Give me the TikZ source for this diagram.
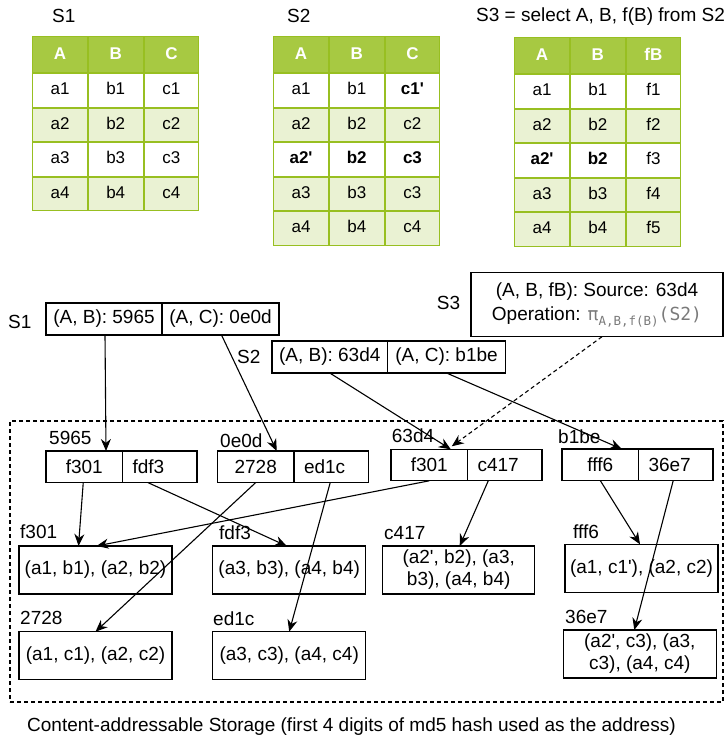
\documentclass[tikz,border=0pt]{standalone}
\usepackage{fontspec}
\setmainfont{Liberation Sans}
\newfontfamily\opfont{DejaVu Sans Mono}
\usepackage{xcolor}
\usepackage{tikz}
\usetikzlibrary{arrows.meta, positioning, matrix}

\definecolor{tblhead}{HTML}{A7C942}
\definecolor{tblline}{HTML}{98BF21}
\definecolor{tblalt}{HTML}{EAF2D3}
\definecolor{opgray}{HTML}{7A7A7A}
\newcommand{\bigtxt}{\fontsize{19}{22}\selectfont}
\newcommand{\tbltxt}{\fontsize{17}{20}\selectfont}
\newcommand{\apos}{\textquotesingle}

\tikzset{
  cell/.style={draw=tblline, line width=1pt, minimum width=54.7pt, minimum height=33.5pt, inner sep=0pt,
    text height=12.5pt, text depth=3.5pt, anchor=center, font=\tbltxt},
  headcell/.style={fill=tblhead, text=white, font=\tbltxt\bfseries, minimum height=36pt},
  altcell/.style={fill=tblalt},
  tbl/.style={matrix of nodes, inner sep=0pt, column sep=0pt, row sep=0pt, anchor=north west, nodes={cell},
    row 1/.style={nodes={headcell}}, row 3/.style={nodes={altcell}}, row 5/.style={nodes={altcell}}},
  pairbox/.style={draw, line width=1.1pt, minimum height=32pt, inner sep=0pt, outer sep=0pt, font=\bigtxt},
  halfL/.style={draw, line width=1.1pt, minimum width=76.5pt, minimum height=31.5pt, inner sep=0pt, outer sep=0pt, font=\bigtxt, anchor=north west},
  halfR/.style={draw, line width=1.1pt, text width=54.5pt, align=left, minimum height=31.5pt, inner xsep=10pt, inner ysep=0pt, outer sep=0pt, font=\bigtxt},
  store/.style={draw, line width=1.1pt, minimum width=153pt, minimum height=48pt, inner sep=2pt, outer sep=0pt, align=center, font=\bigtxt, anchor=north west},
  addr/.style={anchor=west, inner sep=0pt, font=\bigtxt},
  link/.style={-{Stealth[length=12pt, width=10pt]}, line width=1.1pt},
}

\begin{document}
\begin{tikzpicture}[x=1pt, y=-1pt]
  \useasboundingbox (0,0) rectangle (725,738);

  % tables
  \node (ttlS1) [addr] at (52,16) {S1};
  \node (ttlS2) [addr] at (287,16) {S2};
  \node (ttlS3) [addr] at (476,17) {S3 = select A, B, f(B) from S2};
  \matrix (tabS1) [tbl] at (32,36) {
    A & B & C \\
    a1 & b1 & c1 \\
    a2 & b2 & c2 \\
    a3 & b3 & c3 \\
    a4 & b4 & c4 \\
  };
  \matrix (tabS2) [tbl, row 6/.style={nodes={altcell}}] at (273,36) {
    A & B & C \\
    a1 & b1 & \textbf{c1\apos} \\
    a2 & b2 & c2 \\
    \textbf{a2\apos} & \textbf{b2} & \textbf{c3} \\
    a3 & b3 & c3 \\
    a4 & b4 & c4 \\
  };
  \matrix (tabS3) [tbl, row 6/.style={nodes={altcell}}] at (514,37) {
    A & B & fB \\
    a1 & b1 & f1 \\
    a2 & b2 & f2 \\
    \textbf{a2\apos} & \textbf{b2} & f3 \\
    a3 & b3 & f4 \\
    a4 & b4 & f5 \\
  };

  % root entries
  \node (lblS1) [addr] at (8,322) {S1};
  \node (s1ab) [pairbox, minimum width=116pt, anchor=north west] at (46,303) {(A, B): 5965};
  \node (s1ac) [pairbox, minimum width=117pt, right=0pt of s1ab] {(A, C): 0e0d};
  \node (lblS2) [addr] at (237,356.7) {S2};
  \node (s2ab) [pairbox, minimum width=115.5pt, anchor=north west] at (272,341) {(A, B): 63d4};
  \node (s2ac) [pairbox, minimum width=118pt, right=0pt of s2ab] {(A, C): b1be};
  \node (lblS3) [addr] at (436.7,303.3) {S3};
  \node (s3) [pairbox, minimum width=252pt, minimum height=64pt, align=center, anchor=north west] at (471,272.7)
    {(A, B, fB): Source: 63d4\\[2pt] Operation: {\opfont\fontsize{18}{21}\selectfont\color{opgray}π\raisebox{-5pt}{\fontsize{12.5}{14}\selectfont A,B,f(B)}(S2)}};

  % storage
  \node (cas) [draw, line width=1.1pt, dash pattern=on 4pt off 3pt, minimum width=713pt, minimum height=281pt,
    inner sep=0pt, outer sep=0pt, anchor=north west] at (10,421) {};
  \node (casnote) [addr] at (27,727) {Content-addressable Storage (first 4 digits of md5 hash used as the address)};

  \node (a5965) [addr] at (49,438.3) {5965};
  \node (b5965L) [halfL] at (46,451) {f301};
  \node (b5965R) [halfR, right=0pt of b5965L] {fdf3};
  \node (a0e0d) [addr] at (220,441) {0e0d};
  \node (b0e0dL) [halfL] at (217.5,451) {2728};
  \node (b0e0dR) [halfR, right=0pt of b0e0dL] {ed1c};
  \node (a63d4) [addr] at (391.7,435.7) {63d4};
  \node (b63d4L) [halfL] at (391,449.3) {f301};
  \node (b63d4R) [halfR, right=0pt of b63d4L] {c417};
  \node (ab1be) [addr] at (558,437) {b1be};
  \node (bb1beL) [halfL] at (562,449) {fff6};
  \node (bb1beR) [halfR, right=0pt of bb1beL] {36e7};

  \node (af301) [addr] at (20,531.7) {f301};
  \node (sf301) [store] at (19,546) {(a1, b1), (a2, b2)};
  \node (afdf3) [addr] at (219,532.7) {fdf3};
  \node (sfdf3) [store] at (212.7,546) {(a3, b3), (a4, b4)};
  \node (a2728) [addr] at (20,618.3) {2728};
  \node (s2728) [store] at (19,631.7) {(a1, c1), (a2, c2)};
  \node (aed1c) [addr] at (213,618.3) {ed1c};
  \node (sed1c) [store] at (212.7,631.7) {(a3, c3), (a4, c4)};
  \node (ac417) [addr] at (384,532.7) {c417};
  \node (sc417) [store, minimum width=152pt] at (382.7,546) {(a2\apos, b2), (a3,\\ b3), (a4, b4)};
  \node (afff6) [addr] at (573,531.7) {fff6};
  \node (sfff6) [store] at (565,544.3) {(a1, c1\apos), (a2, c2)};
  \node (a36e7) [addr] at (565,616.7) {36e7};
  \node (s36e7) [store] at (563.3,630) {(a2\apos, c3), (a3,\\ c3), (a4, c4)};

  % pointers
  \draw[link] ([xshift=1pt]s1ab.south) -- ([xshift=21.75pt]b5965L.north);
  \draw[link] ([xshift=1pt]s1ac.south) -- ([xshift=21pt]b0e0dL.north);
  \draw[link] (s2ab.south) -- ([xshift=21.5pt]b63d4L.north);
  \draw[link] (s2ac.south) -- ([xshift=21.5pt]bb1beL.north);
  \draw[link, dash pattern=on 4pt off 3pt] ([xshift=5pt]s3.south) -- ([xshift=22.5pt, yshift=3pt]b63d4L.north);

  \draw[link] ([xshift=-1pt]b5965L.south) -- ([xshift=-17pt]sf301.north);
  \draw[link] ([xshift=-12pt]b5965R.south) -- ([xshift=-2.5pt]sfdf3.north);
  \draw[link] (b0e0dL.south) -- (s2728.north);
  \draw[link] ([xshift=-1pt]b0e0dR.south) -- (sed1c.north);
  \draw[link] (b63d4L.south) -- ([xshift=1pt]sf301.north);
  \draw[link] ([xshift=-16.5pt]b63d4R.south) -- ([xshift=1pt]sc417.north);
  \draw[link] (bb1beL.south) -- ([xshift=-1.5pt]sfff6.north);
  \draw[link] ([xshift=-2.5pt]bb1beR.south) -- ([xshift=-5.5pt]s36e7.north);
\end{tikzpicture}
\end{document}
